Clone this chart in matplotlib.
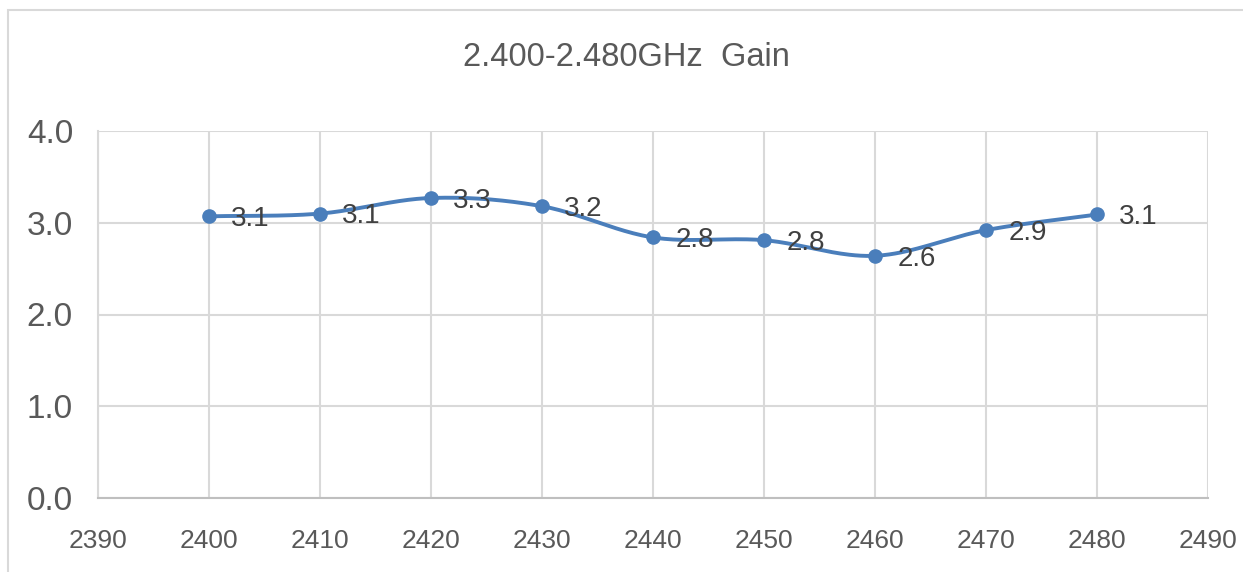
import numpy as np
import matplotlib
matplotlib.use("Agg")
import matplotlib.pyplot as plt
from matplotlib.patches import Rectangle

# ---- data ----
freq = [2400, 2410, 2420, 2430, 2440, 2450, 2460, 2470, 2480]
gain = [3.07, 3.10, 3.27, 3.18, 2.84, 2.81, 2.64, 2.92, 3.09]
title = "2.400-2.480GHz  Gain"
x_ticks = [2390, 2400, 2410, 2420, 2430, 2440, 2450, 2460, 2470, 2480, 2490]
y_ticks = [0.0, 1.0, 2.0, 3.0, 4.0]

fam = ['Liberation Sans Narrow', 'Liberation Sans', 'DejaVu Sans']
plt.rcParams['font.family'] = fam

line_color = '#4A7EBB'
text_color = '#595959'
grid_color = '#D9D9D9'


def smooth(xs, ys, n=40):
    """Bezier smoothing through the points (like Excel's smoothed line)."""
    xs = np.asarray(xs, float)
    ys = np.asarray(ys, float)
    px = np.concatenate([[2 * xs[0] - xs[1]], xs, [2 * xs[-1] - xs[-2]]])
    py = np.concatenate([[2 * ys[0] - ys[1]], ys, [2 * ys[-1] - ys[-2]]])
    outx, outy = [], []
    t = np.linspace(0, 1, n)
    for i in range(1, len(px) - 2):
        for arr, out in ((px, outx), (py, outy)):
            a0, a1, a2, a3 = arr[i-1], arr[i], arr[i+1], arr[i+2]
            c1 = a1 + (a2 - a0) / 6
            c2 = a2 - (a3 - a1) / 6
            out.append((1-t)**3 * a1 + 3*(1-t)**2*t*c1 + 3*(1-t)*t**2*c2 + t**3*a2)
    return np.concatenate(outx), np.concatenate(outy)


fig = plt.figure(figsize=(12.43, 5.72), dpi=100)
ax = fig.add_axes([98/1243, 1 - 498/572, (1208-98)/1243, (498-131)/572])

# chart area border
fig.patches.append(Rectangle((8/1243, -0.1), 1.2, 1 - 10/572 + 0.1, transform=fig.transFigure,
                             fill=False, edgecolor='#D9D9D9', linewidth=1.5, zorder=0))

sx, sy = smooth(freq, gain)
ax.plot(sx, sy, color=line_color, linewidth=2.8, solid_capstyle='round', zorder=3)
ax.plot(freq, gain, linestyle='none', marker='o', markersize=9.5, color=line_color, zorder=4)

for xv, yv in zip(freq, gain):
    ax.annotate(f"{yv:.1f}", (xv, yv), xytext=(16, -2), textcoords='offset points',
                ha='left', va='center', fontsize=20, color='#404040', zorder=5)

ax.set_xlim(2390, 2490)
ax.set_ylim(0, 4)
ax.set_xticks(x_ticks)
ax.set_xticklabels([str(v) for v in x_ticks])
ax.set_yticks(y_ticks)
ax.set_yticklabels([f"{v:.1f}" for v in y_ticks])
ax.tick_params(axis='x', length=0, pad=22, labelsize=19, labelcolor=text_color)
ax.tick_params(axis='y', length=0, pad=18, labelsize=24, labelcolor=text_color)
ax.grid(True, color=grid_color, linewidth=1.5)
ax.set_axisbelow(True)
for s in ['top', 'right']:
    ax.spines[s].set_visible(False)
ax.spines['left'].set_color('#D9D9D9')
ax.spines['left'].set_linewidth(1.5)
ax.spines['bottom'].set_color('#BFBFBF')
ax.spines['bottom'].set_linewidth(1.5)

fig.text(626/1243, 1 - 57/572, title, ha='center', va='center', fontsize=23.5,
         color=text_color)

fig.savefig("out.png", dpi=100, facecolor='white')
